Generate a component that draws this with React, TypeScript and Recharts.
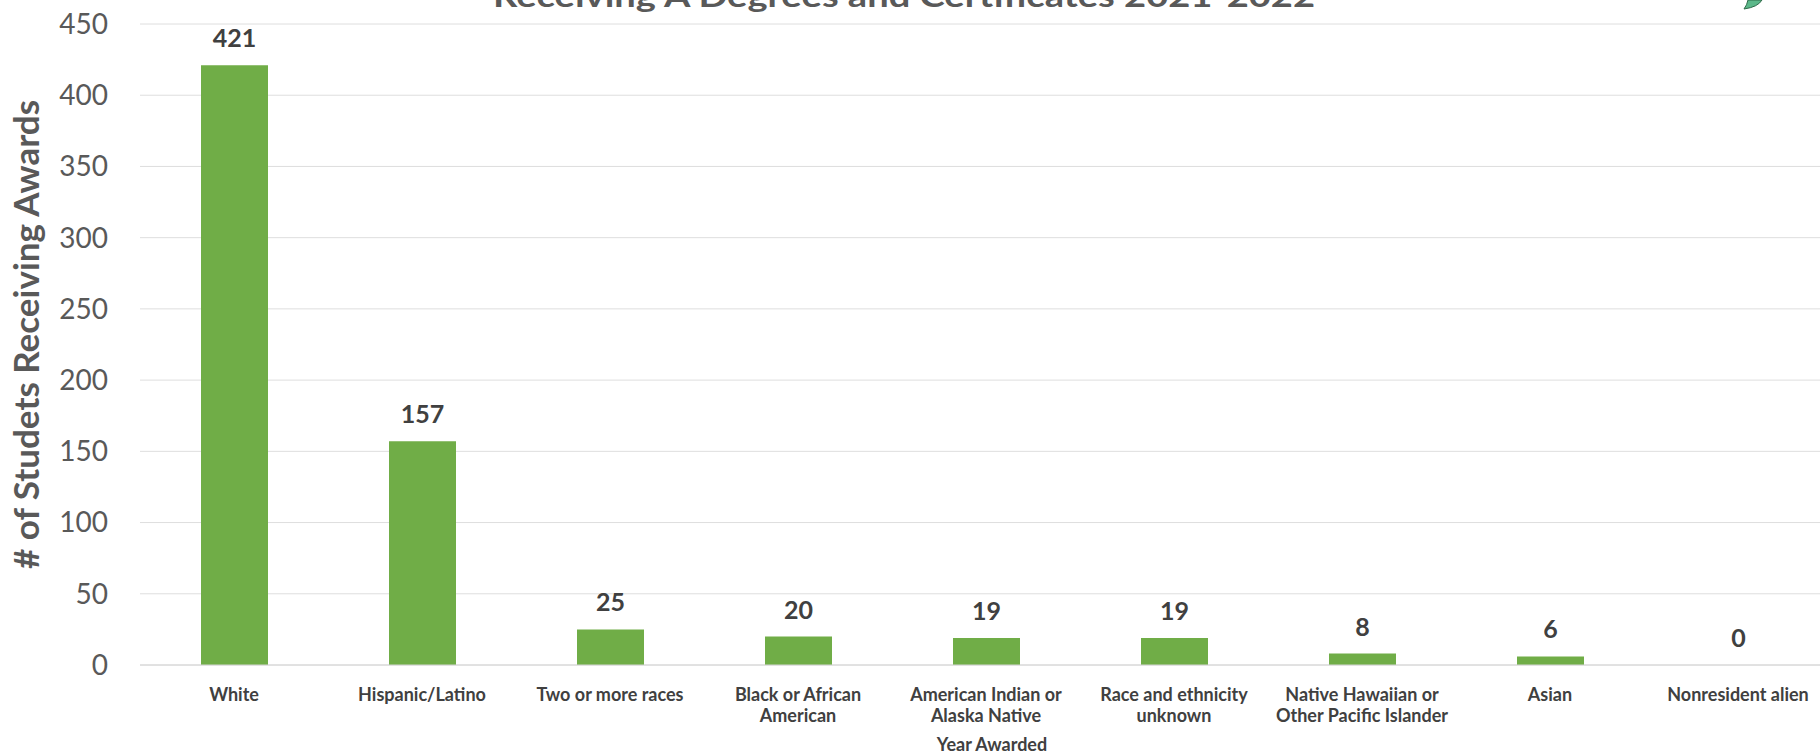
import { BarChart, Bar, XAxis, YAxis, CartesianGrid, LabelList, Label } from 'recharts';

const categories = [
  'White',
  'Hispanic/Latino',
  'Two or more races',
  'Black or African\nAmerican',
  'American Indian or\nAlaska Native',
  'Race and ethnicity\nunknown',
  'Native Hawaiian or\nOther Pacific Islander',
  'Asian',
  'Nonresident alien',
];
const students = [421, 157, 25, 20, 19, 19, 8, 6, 0];
const yTicks = [0, 50, 100, 150, 200, 250, 300, 350, 400, 450];

const data = categories.map((name, i) => ({ name, students: students[i] }));

const FONT = 'Lato, "Open Sans", sans-serif';

const CategoryTick = (props: any) => {
  const { x, y, payload } = props;
  const lines = String(payload.value).split('\n');
  return (
    <text x={x} y={y} textAnchor="middle" fill="#404040" fontFamily={FONT} fontSize={18} fontWeight={700}>
      {lines.map((line, i) => (
        <tspan key={i} x={x} dy={i === 0 ? 28 : 21}>
          {line}
        </tspan>
      ))}
    </text>
  );
};

const App = () => {
  return (
    <div style={{ position: 'absolute', left: 0, top: 0, width: 1820, height: 754, overflow: 'hidden', background: '#fff' }}>
      <BarChart
        width={1832}
        height={754}
        data={data}
        margin={{ top: 24, right: 0, left: 0, bottom: 0 }}
      >
        <CartesianGrid vertical={false} stroke="#dedede" />
        <XAxis
          dataKey="name"
          height={89}
          interval={0}
          tickLine={false}
          axisLine={{ stroke: '#d4d4d4' }}
          tick={<CategoryTick />}
        >
          <Label
            value="Year Awarded"
            position="insideBottom"
            offset={3}
            dx={6}
            fill="#404040"
            fontFamily={FONT}
            fontSize={18}
            fontWeight={700}
          />
        </XAxis>
        <YAxis
          width={140}
          domain={[0, 450]}
          ticks={yTicks}
          tickLine={false}
          axisLine={false}
          tickSize={0}
          tickMargin={32}
          tick={{ fill: '#595959', fontFamily: FONT, fontSize: 28 }}
        >
          <Label
            content={(p: any) => {
              const vb = p.viewBox || { x: 0, y: 24, height: 641 };
              const cx = vb.x + 25;
              const cy = vb.y + vb.height / 2 - 10;
              return (
                <text
                  transform={`translate(${cx},${cy}) rotate(-90)`}
                  textAnchor="middle"
                  dominantBaseline="central"
                  fill="#595959"
                  fontFamily={FONT}
                  fontSize={35}
                  fontWeight={700}
                >
                  # of Studets Receiving Awards
                </text>
              );
            }}
          />
        </YAxis>
        <Bar dataKey="students" fill="#70AD47" barSize={67} minPointSize={0.01} isAnimationActive={false}>
          <LabelList
            dataKey="students"
            position="top"
            offset={18}
            fill="#404040"
            fontFamily={FONT}
            fontSize={25}
            fontWeight={700}
          />
        </Bar>
      </BarChart>
      <svg width={1820} height={40} style={{ position: 'absolute', left: 0, top: 0 }}>
        <text
          x={904}
          y={7}
          textAnchor="middle"
          fill="#595959"
          fontFamily={FONT}
          fontSize={30}
          fontWeight={700}
          textLength={822}
          lengthAdjust="spacingAndGlyphs"
        >
          Receiving A Degrees and Certificates 2021-2022
        </text>
        <path d="M1744,9 Q1758,7 1762,0 L1748,0 Q1747,5 1744,9 Z" fill="#5cb88a" stroke="#2f6b4a" strokeWidth={1} />
      </svg>
    </div>
  );
};

export default App;
